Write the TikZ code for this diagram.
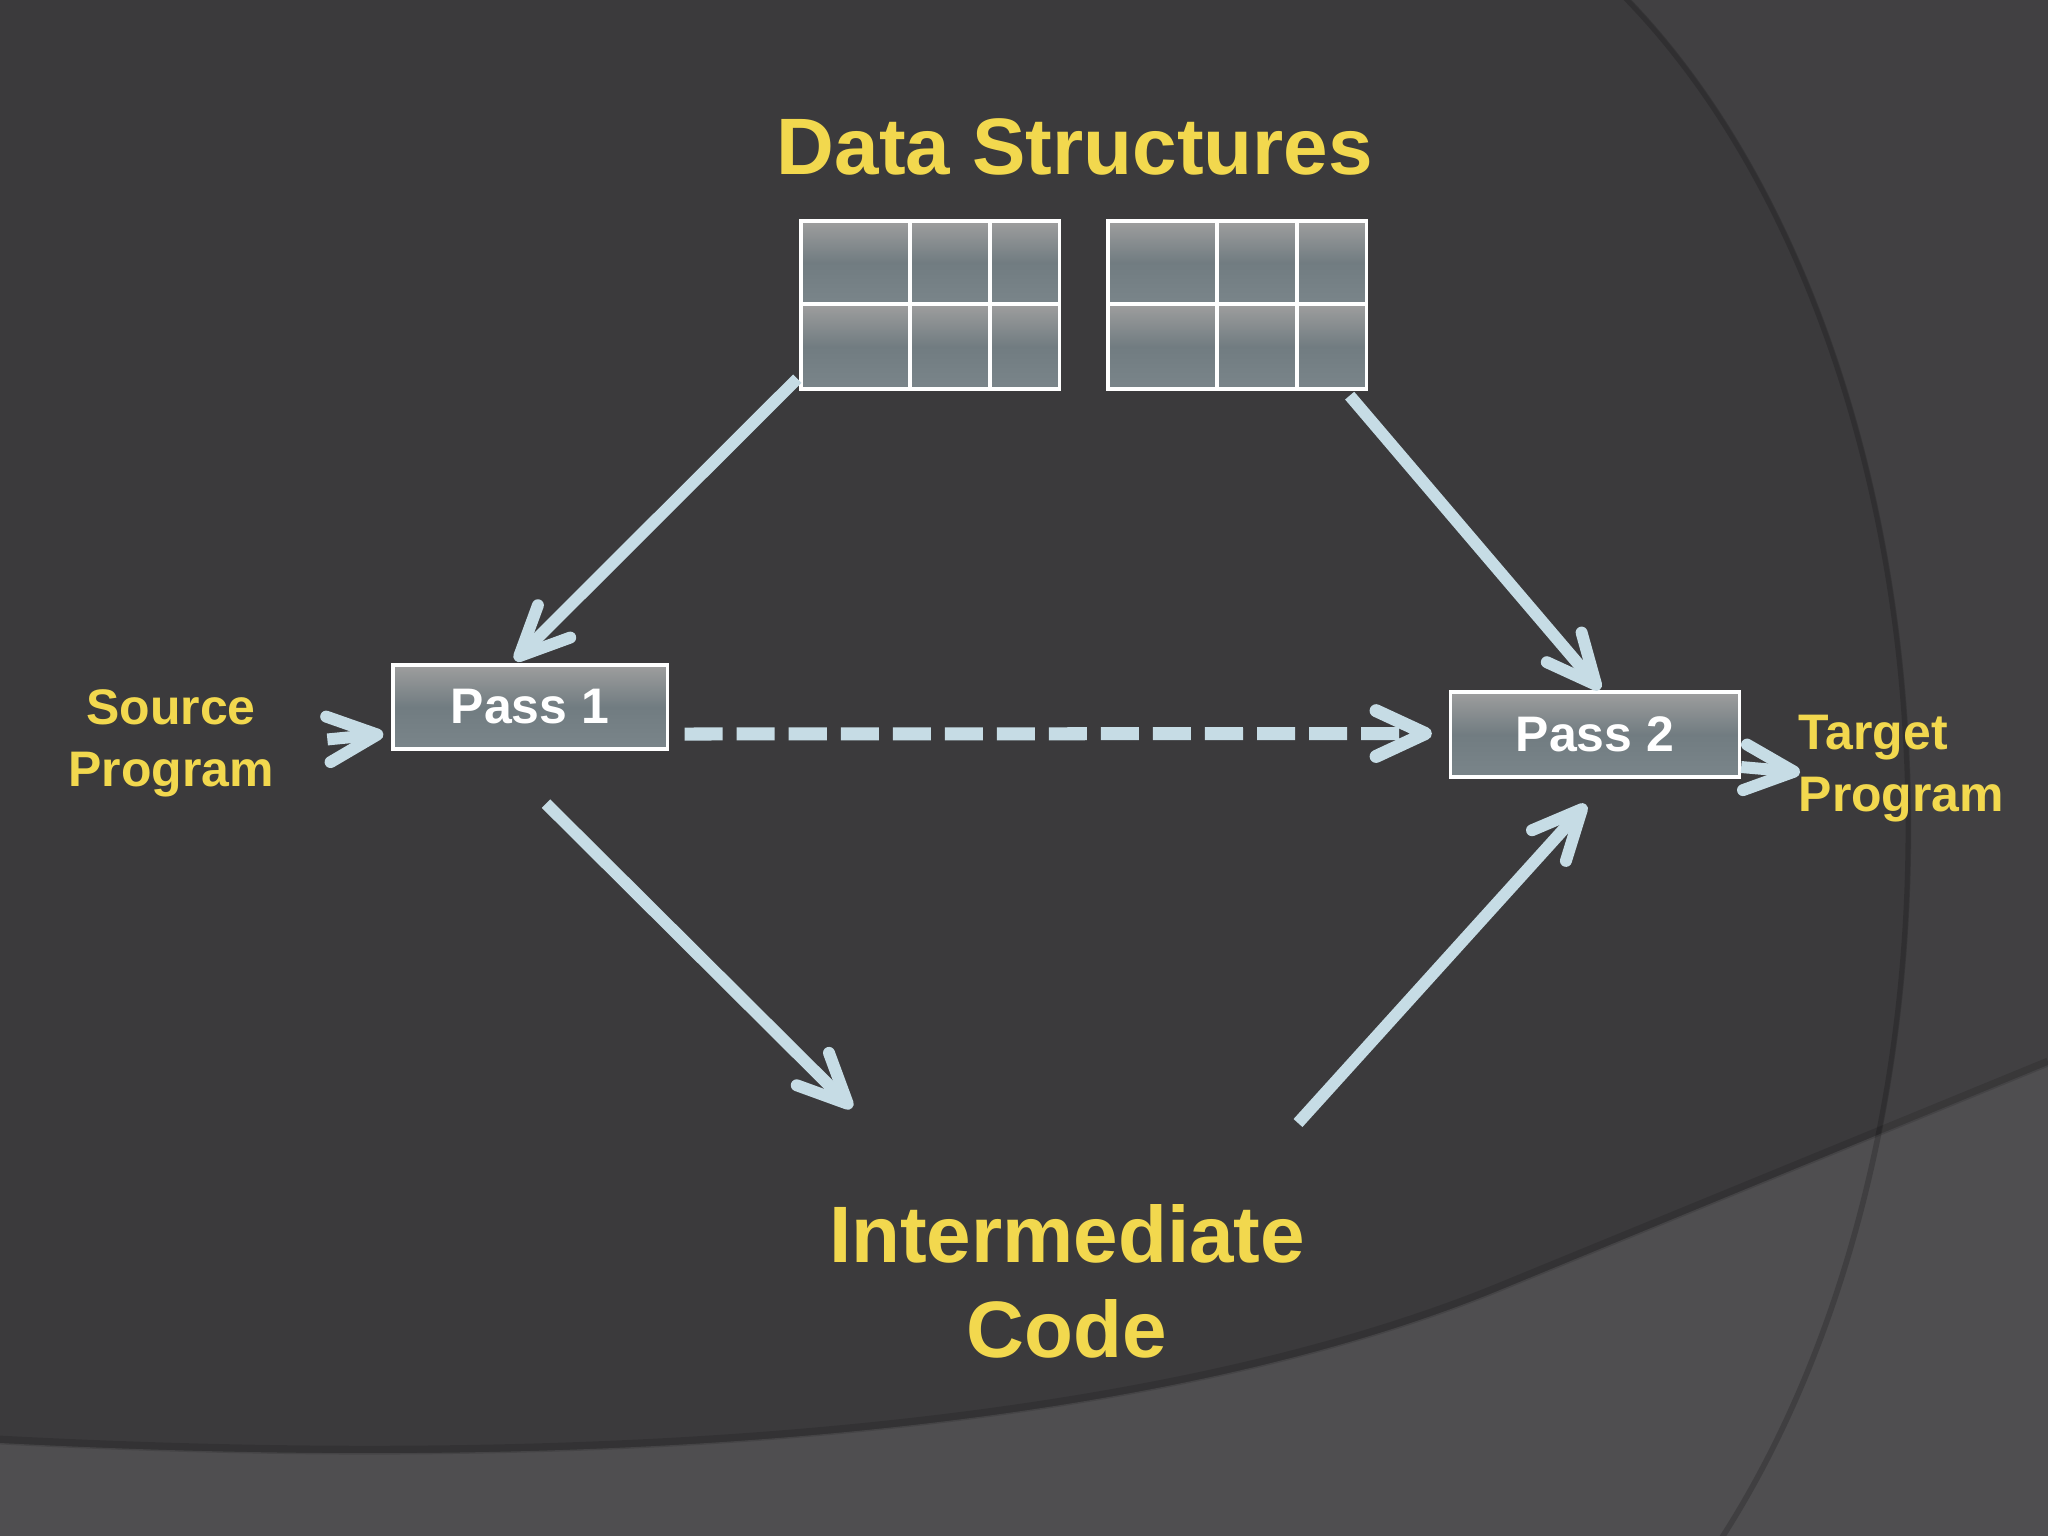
\documentclass[tikz,border=0pt]{standalone}
\usepackage{fontspec}
\setmainfont{Liberation Sans}
\usetikzlibrary{arrows.meta,calc}
\definecolor{bg}{HTML}{3B3A3C}
\definecolor{bgright}{HTML}{414042}
\definecolor{band}{HTML}{4F4E50}
\definecolor{yel}{HTML}{F2D84E}
\definecolor{arr}{HTML}{C6DCE5}
\definecolor{ctop}{HTML}{9E9E9E}
\definecolor{cmid}{HTML}{717C81}
\definecolor{cbot}{HTML}{7A858A}
\begin{document}
\begin{tikzpicture}[x=0.01cm,y=-0.01cm,
  biglbl/.style={text=yel, font=\bfseries\fontsize{22.76}{27.03}\selectfont, inner sep=0},
  smalllbl/.style={text=yel, font=\bfseries\fontsize{14.2}{17.64}\selectfont, inner sep=0},
  passbox/.style={draw=white, line width=0.9pt, top color=ctop, bottom color=cbot, middle color=cmid,
    text=white, font=\bfseries\fontsize{14.2}{17}\selectfont, inner sep=0},
  tblframe/.style={draw=white, line width=0.9pt, inner sep=0},
  cellshade/.style={top color=ctop, bottom color=cbot, middle color=cmid},
  flow/.style={draw=arr, line width=3.4pt,
    -{Straight Barb[length=14pt,width=13pt,line cap=round,line join=round]}},
]
% background
\useasboundingbox (0,0) rectangle (2048,1536);
\fill[bg] (0,0) rectangle (2048,1536);
\begin{scope}
  \clip (1300,0) rectangle (2048,1536);
  \fill[bgright, even odd rule] (1300,-300) rectangle (2100,1900) (1300,829) ellipse [x radius=6.1cm, y radius=9.85cm];
\end{scope}
\fill[band] (0,1443) .. controls (700,1480) and (1200,1413) .. (1500,1290) -- (2048,1065) -- (2048,1536) -- (0,1536) -- cycle;
\draw[black, opacity=0.12, line width=2.5pt] (0,1440) .. controls (700,1477) and (1200,1410) .. (1500,1287) -- (2048,1062);
\begin{scope}
  \clip (1300,0) rectangle (2048,1536);
  \draw[black, opacity=0.18, line width=1.6pt] (1300,829) ellipse [x radius=6.08cm, y radius=9.83cm];
\end{scope}

% tables
\foreach \xa/\xb in {801/1059, 1108/1366} {
  \shade[cellshade] (\xa,221) rectangle (\xb,304);
  \shade[cellshade] (\xa,304) rectangle (\xb,389);
}
\node[tblframe, minimum width=2.58cm, minimum height=1.68cm] (t1) at (930,305) {};
\node[tblframe, minimum width=2.58cm, minimum height=1.68cm] (t2) at (1237,305) {};
\draw[white, line width=0.9pt] (801,304) -- (1059,304) (910,221) -- (910,389) (990,221) -- (990,389);
\draw[white, line width=0.9pt] (1108,304) -- (1366,304) (1217,221) -- (1217,389) (1297,221) -- (1297,389);

% labels
\node[biglbl, anchor=base] (ds) at (1075,174) {Data Structures};
\node[biglbl, align=center, anchor=north] (ic) at (1067,1204) {Intermediate\\Code};
\node[smalllbl, align=center, anchor=north] (sp) at (171,689) {Source\\Program};
\node[smalllbl, align=left, anchor=north west] (tp) at (1798,714) {Target\\Program};

% passes
\node[passbox, minimum width=2.74cm, minimum height=0.84cm] (p1) at (530,707) {Pass 1};
\node[passbox, minimum width=2.89cm, minimum height=0.85cm] (p2) at (1595,734.5) {Pass 2};

% connectors
\draw[flow] ($(t1.south west)+(-2,-12)$) -- ($(p1.north)+(-15,-3)$);
\draw[flow] ($(t2.south east)+(-18,5)$) -- ($(p2.north)+(5,-1)$);
\draw[flow] ($(p1.south)+(16,53)$) -- ($(ic.north)+(-215,-96)$);
\draw[flow] ($(ic.north)+(231,-81)$) -- ($(p2.south)+(-9,26)$);
\draw[flow, line width=3.7pt, dash pattern=on 0.38cm off 0.14cm] ($(p1.east)+(16,27)$) -- ($(p2.west)+(-17,-1)$);
\draw[flow] ($(sp.east)+(53,-4)$) -- ($(p1.west)+(-8,27)$);
\draw[flow] ($(p2.east)+(0,32.5)$) -- ($(tp.west)+(2,4)$);
\end{tikzpicture}
\end{document}
